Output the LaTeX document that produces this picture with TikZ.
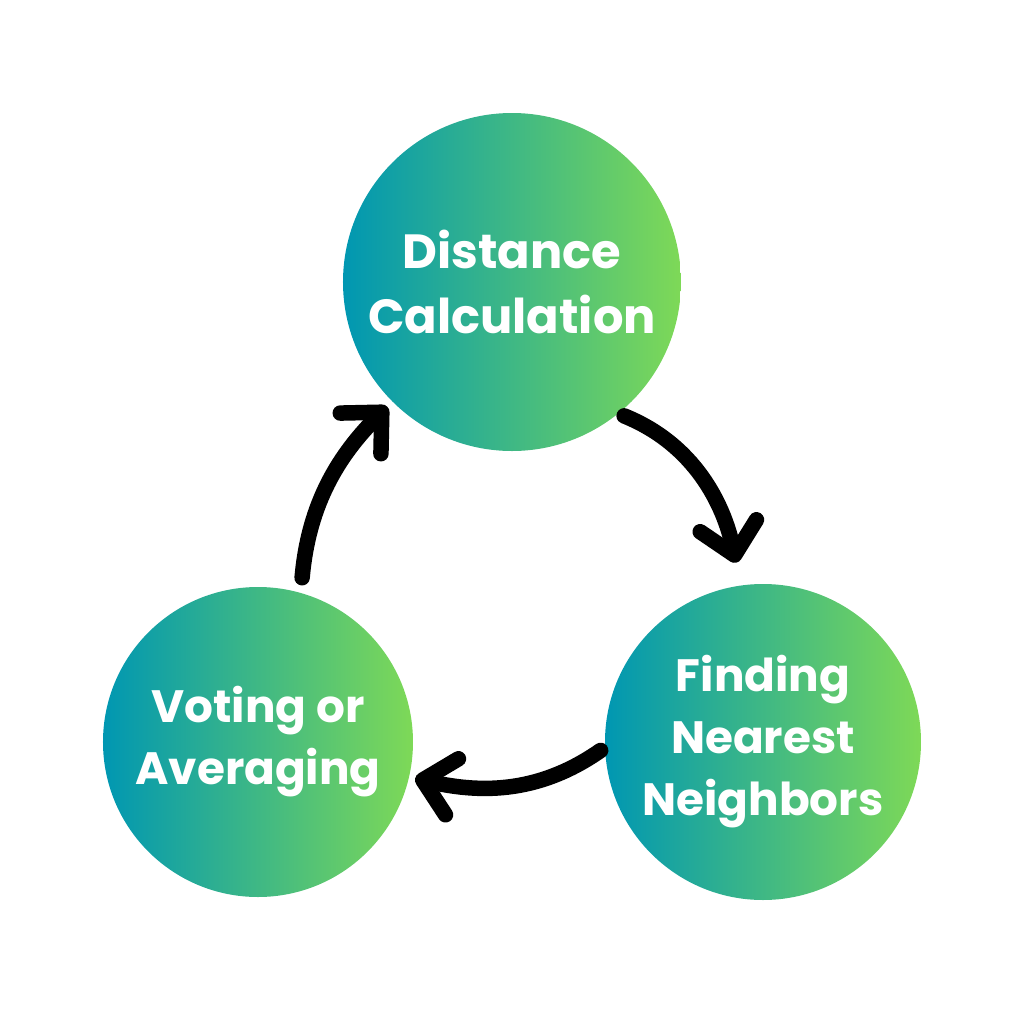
\documentclass[tikz,border=0pt]{standalone}
\usepackage{fontspec}
\setmainfont{Poppins}
\usetikzlibrary{arrows.meta,calc}
\definecolor{cTeal}{HTML}{0097B2}
\definecolor{cLime}{HTML}{7ED957}
\definecolor{cInk}{HTML}{000000}
\tikzset{
  stage/.style    = {circle, inner sep=0pt, align=center, text=white,
                     left color=cTeal, right color=cLime},
  bigstage/.style = {stage, minimum size=67.6mm,
                     font=\fontsize{27.3}{37.5}\selectfont\bfseries},
  lowstage/.style = {stage, font=\fontsize{25.8}{35.3}\selectfont\bfseries},
  turn/.style     = {draw=cInk, line width=3.1mm, line cap=round,
                     -{Straight Barb[length=6mm, width=11.5mm,
                       line cap=round, line join=round]}},
}

\begin{document}
\begin{tikzpicture}
  \useasboundingbox (-10.24,-14.84) rectangle (10.24,5.64);
  % the three steps
  \node[bigstage] (dist) at (0,0) {Distance\\Calculation};
  \node[lowstage, minimum size=63.2mm] (near) at ($(dist)+(5.02,-9.2)$)
    {Finding\\Nearest\\Neighbors};
  \node[lowstage, minimum size=62mm] (vote) at ($(dist)+(-5.08,-9.2)$)
    {Voting or\\Averaging};
  % the loop between them
  \draw[turn, shorten <=3mm, shorten >=1.4mm] (vote.74) to[out=85, in=225] (dist.225);
  \draw[turn, shorten <=1.2mm, shorten >=4.6mm] (dist.-51) to[out=-22, in=102] (near.98);
  \draw[turn, shorten <=1mm, shorten >=1.2mm] (near.182) to[out=215, in=-13] (vote.-13);
\end{tikzpicture}
\end{document}
